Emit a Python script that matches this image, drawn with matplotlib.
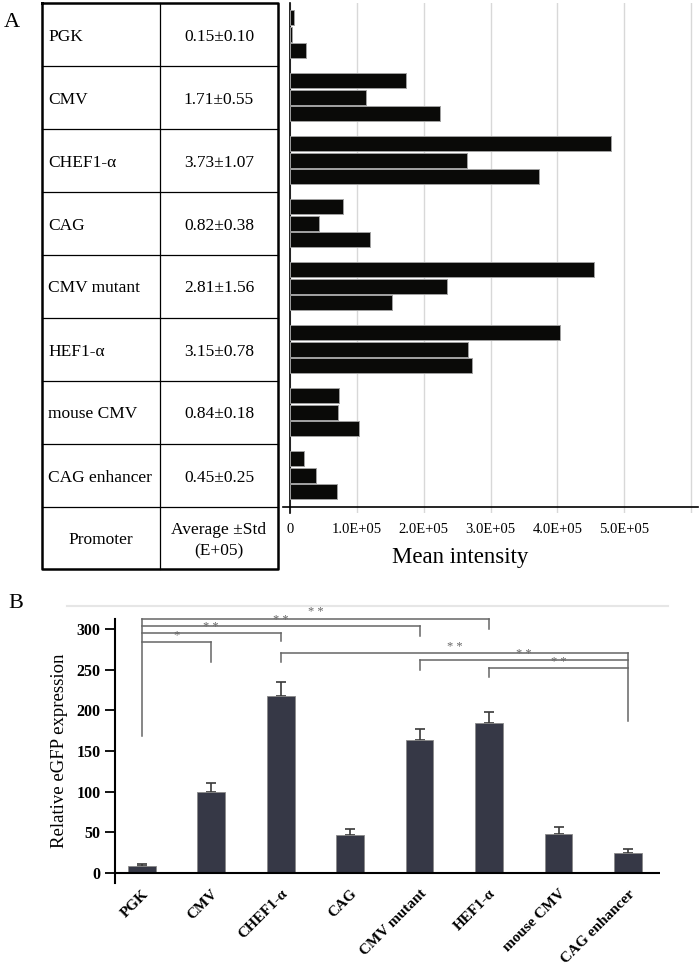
import numpy as np
import matplotlib
matplotlib.use('Agg')
import matplotlib.pyplot as plt

plt.rcParams['font.family'] = ['Liberation Serif', 'DejaVu Serif']

promoters = ['PGK', 'CMV', 'CHEF1-α', 'CAG', 'CMV mutant', 'HEF1-α', 'mouse CMV', 'CAG enhancer']
mean_e5 = [0.15, 1.71, 3.73, 0.82, 2.81, 3.15, 0.84, 0.45]
std_e5 = [0.10, 0.55, 1.07, 0.38, 1.56, 0.78, 0.18, 0.25]

# mean intensity of the three replicates (x 1E+05)
rep1 = [0.07, 1.74, 4.80, 0.80, 4.54, 4.04, 0.74, 0.21]
rep2 = [0.04, 1.14, 2.65, 0.44, 2.35, 2.67, 0.72, 0.40]
rep3 = [0.24, 2.24, 3.72, 1.20, 1.53, 2.73, 1.04, 0.71]
ticks_a = [0, 1e5, 2e5, 3e5, 4e5, 5e5, 6e5]
tick_labels_a = ['0', '1.0E+05', '2.0E+05', '3.0E+05', '4.0E+05', '5.0E+05', '']

rel_expr = [8, 100, 218, 47, 164, 184, 48, 25]
rel_err = [3, 11, 17, 7, 13, 14, 9, 4]

# (left bar, right bar, bracket height, end of the short leg, stars)
comparisons = [
    (0, 1, 284, 259.6, '*'),
    (0, 2, 294.5, 285, '**'),
    (0, 4, 303.4, 292, '**'),
    (0, 5, 312.8, 300.6, '**'),
    (2, 7, 270.6, 259.6, '**'),
    (4, 7, 261.7, 249.4, '**'),
    (5, 7, 251.5, 241, '**'),
]
pgk_leg_end = 169
enh_leg_end = 186.7

W, H = 700, 969
fig = plt.figure(figsize=(7, 9.69), dpi=100)

# pixel axes for table, panel letters
bg = fig.add_axes([0, 0, 1, 1])
bg.set_xlim(0, W)
bg.set_ylim(H, 0)
bg.axis('off')
bg.patch.set_alpha(0)

def px(x0, y0, x1, y1):
    return [x0 / W, 1 - y1 / H, (x1 - x0) / W, (y1 - y0) / H]

bg.text(12, 22, 'A', fontsize=16, ha='center', va='center')
bg.text(16, 603, 'B', fontsize=16, ha='center', va='center')

# ---- table
tx0, tx1, tc = 42, 278, 160
ty0, row_h = 3, 63
n = len(promoters)
ty_hdr = ty0 + n * row_h
ty1 = ty_hdr + 62
for k in range(1, n + 1):
    y = ty0 + k * row_h
    bg.plot([tx0, tx1], [y, y], color='black', lw=0.9)
bg.plot([tc, tc], [ty0, ty1], color='black', lw=0.9)
bg.plot([tx0, tx1, tx1, tx0, tx0], [ty0, ty0, ty1, ty1, ty0], color='black', lw=1.8)
for k, name in enumerate(promoters):
    yc = ty0 + (k + 0.5) * row_h + 2
    bg.text(tx0 + 6, yc, name, fontsize=12.5, ha='left', va='center')
    bg.text((tc + tx1) / 2, yc, f'{mean_e5[k]:.2f}±{std_e5[k]:.2f}',
            fontsize=12.5, ha='center', va='center')
bg.text((tx0 + tc) / 2, ty_hdr + 33, 'Promoter', fontsize=12.5, ha='center', va='center')
bg.text((tc + tx1) / 2, ty_hdr + 23, 'Average ±Std', fontsize=12.5, ha='center', va='center')
bg.text((tc + tx1) / 2, ty_hdr + 44, '(E+05)', fontsize=12.5, ha='center', va='center')

# ---- panel A bars
ax = fig.add_axes(px(283, 3, 698, 513))
groups = np.arange(n)
for off, vals in zip([-0.262, 0, 0.262], [rep1, rep2, rep3]):
    ax.barh(groups + off, np.array(vals) * 1e5, height=0.238, color='#0a0a08',
            edgecolor='#a0a0a0', linewidth=0.7, zorder=3)
ax.set_xlim(-0.1e5, 6.1e5)
ax.set_ylim(7.6, -0.5)
ax.spines['left'].set_position(('data', 0))
ax.spines['bottom'].set_position(('data', 7.5))
ax.spines['top'].set_visible(False)
ax.spines['right'].set_visible(False)
ax.spines['left'].set_linewidth(1.2)
ax.spines['bottom'].set_linewidth(1.2)
ax.set_yticks([])
ax.set_xticks(ticks_a)
ax.set_xticklabels(tick_labels_a, fontsize=10.5)
ax.tick_params(axis='x', length=0, pad=12)
ax.grid(axis='x', color='#d8d8d8', linewidth=1, zorder=0)
bg.text(460, 557, 'Mean intensity', fontsize=16.5, ha='center', va='center')

# ---- panel B
bg.plot([67, 668], [606, 606], color='#e6e6e6', lw=1.5)
bx = fig.add_axes(px(115, 619, 660, 883))
xpos = np.arange(n)
bx.bar(xpos, rel_expr, width=0.4, color='#363846', edgecolor='#8a8a8a', linewidth=0.6, zorder=3)
bx.errorbar(xpos, rel_expr, yerr=[np.zeros(n), rel_err], fmt='none', ecolor='#3a3a3a',
            elinewidth=1.2, capsize=3.5, capthick=1.2, zorder=2)
bx.axhline(0, color='black', lw=1.5, zorder=4)
bx.set_xlim(-0.384, 7.46)
bx.set_ylim(-12.3, 312.3)
for s in ['top', 'right', 'bottom']:
    bx.spines[s].set_visible(False)
bx.spines['left'].set_linewidth(1.5)
bx.set_yticks(np.arange(0, 301, 50))
bx.tick_params(axis='y', length=7, width=1.3, labelsize=11.5)
for t in bx.get_yticklabels():
    t.set_fontweight('bold')
bx.set_ylabel('Relative eGFP expression', fontsize=13.5, labelpad=6)
bx.set_xticks(xpos)
bx.set_xticklabels(promoters, rotation=45, ha='right', va='top', rotation_mode='anchor',
                   fontsize=11, fontweight='bold')
bx.tick_params(axis='x', length=0, pad=3)

gray = '#666666'
for i, j, h, leg, stars in comparisons:
    bx.plot([i, j], [h, h], color=gray, lw=1.1, clip_on=False)
    short = j if i == 0 else i
    bx.plot([short, short], [h, leg], color=gray, lw=1.1, clip_on=False)
    bx.text((i + j) / 2, h + 0.3, ' '.join(stars), fontsize=9, color=gray,
            ha='center', va='bottom', clip_on=False)
bx.plot([0, 0], [max(c[2] for c in comparisons if c[0] == 0), pgk_leg_end],
        color=gray, lw=1.1, clip_on=False)
bx.plot([7, 7], [max(c[2] for c in comparisons if c[1] == 7), enh_leg_end],
        color=gray, lw=1.1, clip_on=False)

fig.savefig('out.png', dpi=100)
